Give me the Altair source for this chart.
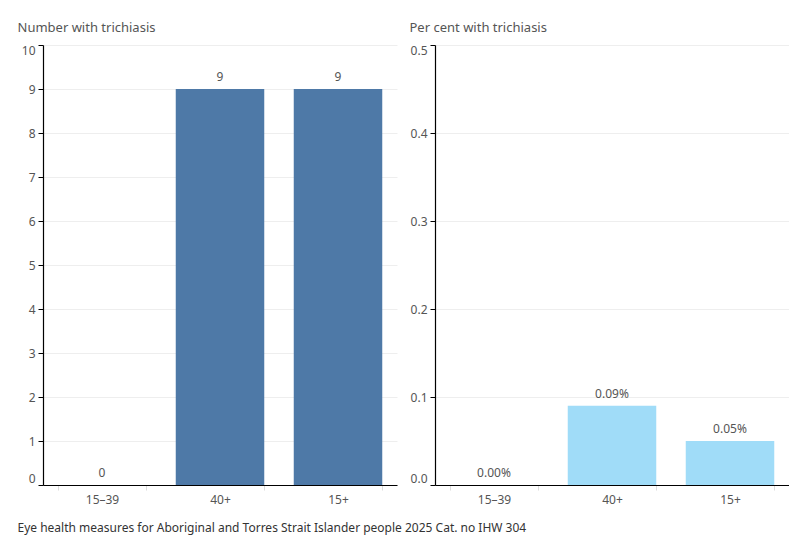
import altair as alt
import pandas as pd

age_groups = ["15–39", "40+", "15+"]
number_values = [0, 9, 9]
number_labels = ["0", "9", "9"]
percent_values = [0.00, 0.09, 0.05]
percent_labels = ["0.00%", "0.09%", "0.05%"]

left_df = pd.DataFrame({"age": age_groups, "value": number_values, "label": number_labels})
right_df = pd.DataFrame({"age": age_groups, "value": percent_values, "label": percent_labels})

FONT = "Noto Sans"
W, H = 354, 440

def panel(df, title, domain_max, tick_step, fmt, color, footer=None):
    xaxis = alt.Axis(
        title=footer if footer else None,
        grid=False,
        labelAngle=0, labelFontSize=12, labelColor="#555", labelPadding=4,
        tickBand="extent", tickColor="#ddd", tickSize=5,
        domainColor="#000", domainWidth=1.2,
        **({"titleX": -26, "titleY": 46, "titleAlign": "left", "titleAnchor": "start",
            "titleFontSize": 12, "titleFontWeight": "normal", "titleColor": "#333",
            "titleBaseline": "alphabetic"} if footer else {})
    )
    n = int(round(domain_max / tick_step))
    ticks = [round(i * tick_step, 4) for i in range(n + 1)]
    yaxis = alt.Axis(
        title=title, titleAngle=0, titleX=-26, titleY=-14, titleAlign="left",
        titleBaseline="alphabetic", titleFontSize=13, titleFontWeight="normal",
        titleColor="#555",
        values=ticks, format=fmt, labelFontSize=12, labelColor="#555",
        labelPadding=3, labelFlush=True, tickColor="#000", tickSize=5,
        domainColor="#000", domainWidth=1.2, gridColor="#eeeeee",
    )
    base = alt.Chart(df).encode(
        x=alt.X("age:N", sort=age_groups, axis=xaxis,
                scale=alt.Scale(paddingInner=0.25, paddingOuter=0.125)),
        y=alt.Y("value:Q", axis=yaxis, scale=alt.Scale(domain=[0, domain_max], nice=False)),
    )
    bars = base.mark_bar(color=color)
    text = base.mark_text(dy=-5, baseline="bottom", fontSize=12, color="#555", font=FONT).encode(
        text="label:N")
    return (bars + text).properties(width=W, height=H)

left = panel(left_df, "Number with trichiasis", 10, 1, "d", "#4e79a7",
             footer="Eye health measures for Aboriginal and Torres Strait Islander people 2025 Cat. no IHW 304")
right = panel(right_df, "Per cent with trichiasis", 0.5, 0.1, ".1f", "#a0dcf8")

chart = alt.hconcat(left, right, spacing=38, bounds="flush").properties(
    padding={"left": 17, "top": 21, "right": 0, "bottom": 12},
).configure(font=FONT).configure_view(strokeWidth=0, stroke="transparent")

chart.save("out.html", embed_options={"renderer": "svg", "actions": False})
